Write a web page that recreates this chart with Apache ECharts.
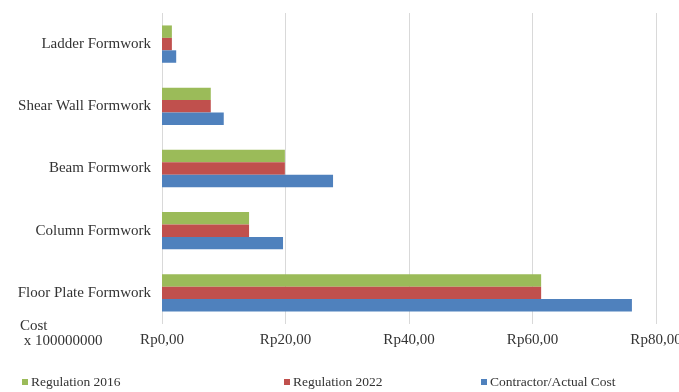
<!DOCTYPE html>
<html><head><meta charset="utf-8">
<script src="https://cdn.jsdelivr.net/npm/echarts@6/dist/echarts.min.js"></script>
<style>html,body{margin:0;padding:0;background:#fff}#c{width:679px;height:392px}</style>
</head><body><div id="c"></div>
<script>
const categories = ['Floor Plate Formwork', 'Column Formwork', 'Beam Formwork', 'Shear Wall Formwork', 'Ladder Formwork'];
const seriesNames = ['Regulation 2016', 'Regulation 2022', 'Contractor/Actual Cost'];
const reg2016 = [61.4, 14.1, 19.9, 7.9, 1.6];
const reg2022 = [61.4, 14.1, 19.9, 7.9, 1.6];
const actual = [76.1, 19.6, 27.7, 10.0, 2.3];
const xTicks = [0, 20, 40, 60, 80];
const colors = ['#9BBB59', '#C0504D', '#4F81BD'];
const font = 'Liberation Serif, Times New Roman, serif';

const chart = echarts.init(document.getElementById('c'));
const dataSets = [reg2016, reg2022, actual];
const legendLeft = [17, 279, 476];
chart.setOption({
  animation: false,
  textStyle: { fontFamily: font },
  grid: { left: 162, right: 23, top: 13, bottom: 68, containLabel: false, outerBoundsMode: 'none' },
  xAxis: {
    type: 'value', min: xTicks[0], max: xTicks[xTicks.length - 1], interval: 20,
    axisLine: { show: false }, axisTick: { show: false },
    splitLine: { lineStyle: { color: '#d9d9d9' } },
    axisLabel: { fontFamily: font, fontSize: 15, color: '#333', margin: 9,
      formatter: v => 'Rp' + v + ',00' }
  },
  yAxis: {
    type: 'category', data: categories,
    axisLine: { show: false }, axisTick: { show: false },
    axisLabel: { fontFamily: font, fontSize: 15, color: '#333', margin: 11 }
  },
  legend: seriesNames.map((n, i) => ({
    data: [n], left: legendLeft[i], top: 370, itemWidth: 6, itemHeight: 6, icon: 'rect', itemGap: 3,
    textStyle: { fontFamily: font, fontSize: 13.5, color: '#333', padding: [0, 0, 0, -2] }
  })),
  graphic: [{ type: 'text', left: 20, top: 319,
    style: { text: 'Cost\n x 100000000', font: '15px ' + font, fill: '#333', lineHeight: 15 } }],
  series: seriesNames.map((n, i) => ({
    name: n, type: 'bar', data: dataSets[i], barGap: '0%', barCategoryGap: '40%',
    itemStyle: { color: colors[i] }
  }))
});
</script></body></html>
